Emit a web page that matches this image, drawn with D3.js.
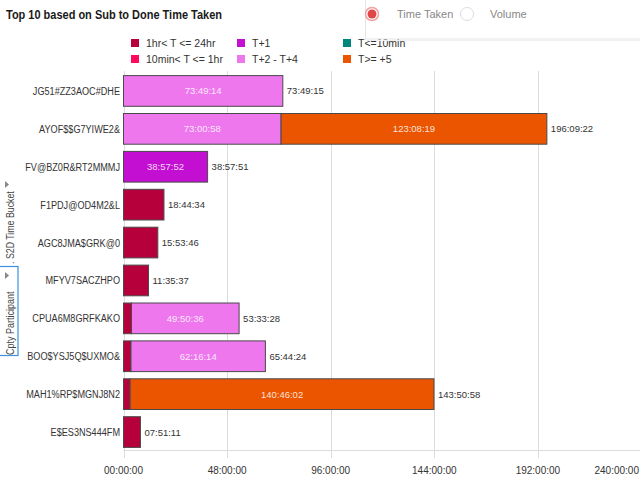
<!DOCTYPE html>
<html><head><meta charset="utf-8">
<script src="https://cdn.jsdelivr.net/npm/d3@7"></script>
<style>
body{margin:0;background:#fff;}
svg{display:block;font-family:"Liberation Sans",Arial,sans-serif;}
</style></head>
<body><svg id="c" width="640" height="477"></svg>
<script>
const categories = ["JG51#ZZ3AOC#DHE","AYOF$$G7YIWE2&","FV@BZ0R&RT2MMMJ","F1PDJ@OD4M2&L","AGC8JMA$GRK@0","MFYV7SACZHPO","CPUA6M8GRFKAKO","BOO$YSJ5Q$UXMO&","MAH1%RP$MGNJ8N2","E$ES3NS444FM"];
const seriesNames = ["1hr< T <= 24hr","10min< T <= 1hr","T<=10min","T+1","T+2 - T+4","T>= +5"];
const seriesColors = ["#b5003c","#ff0a5c","#00877b","#c20fd1","#ee77ee","#eb5500"];
const s1hr   = ["0","0","0","18:44:34","15:53:46","11:35:37","03:42:52","03:28:10","03:04:56","07:51:11"];
const s10min = ["0","0","0","0","0","0","0","0","0","0"];
const s10    = ["0","0","0","0","0","0","0","0","0","0"];
const sT1    = ["0","0","38:57:52","0","0","0","0","0","0","0"];
const sT2T4  = ["73:49:14","73:00:58","0","0","0","0","49:50:36","62:16:14","0","0"];
const sT5    = ["0","123:08:19","0","0","0","0","0","0","140:46:02","0"];
const totals = ["73:49:15","196:09:22","38:57:51","18:44:34","15:53:46","11:35:37","53:33:28","65:44:24","143:50:58","07:51:11"];
const xTicks = [0,48,96,144,192,240];

const toH = s => { if(s==="0") return 0; const p=s.split(":").map(Number); return p[0]+p[1]/60+p[2]/3600; };
const fmt = h => { const t=Math.round(h*3600); const hh=Math.floor(t/3600), mm=Math.floor(t%3600/60), ss=t%60; return String(hh).padStart(2,"0")+":"+String(mm).padStart(2,"0")+":"+String(ss).padStart(2,"0"); };

const series = [s1hr,s10min,s10,sT1,sT2T4,sT5];
const rows = categories.map((c,i)=>{ const r={cat:c,total:totals[i]}; seriesNames.forEach((n,k)=>{r[n]=toH(series[k][i]); r[n+"_lbl"]=series[k][i];}); return r; });

const svg = d3.select("#c");
const x = d3.scaleLinear().domain([0,240]).range([123.5,641.5]);
const y = d3.scaleBand().domain(categories).range([72,451]).paddingInner(0.19).paddingOuter(0.095);
const color = d3.scaleOrdinal().domain(seriesNames).range(seriesColors);

// grid
svg.append("g").selectAll("line").data(xTicks).join("line")
  .attr("x1",d=>Math.round(x(d))+0.5).attr("x2",d=>Math.round(x(d))+0.5)
  .attr("y1",71).attr("y2",458).attr("stroke","#dcdcdc").attr("stroke-width",1);
svg.append("line").attr("x1",x(0)).attr("x2",640).attr("y1",450.5).attr("y2",450.5).attr("stroke","#dcdcdc");
svg.append("g").selectAll("text").data(xTicks).join("text")
  .attr("x",(d,i)=>i===xTicks.length-1?639:x(d)).attr("y",474)
  .attr("text-anchor",(d,i)=>i===xTicks.length-1?"end":"middle")
  .attr("font-size",10).attr("fill","#333").text(d=>fmt(d));

// bars
const stack = d3.stack().keys(seriesNames)(rows);
const layers = svg.append("g").selectAll("g").data(stack).join("g").attr("fill",d=>color(d.key));
layers.selectAll("rect").data(d=>d.map(v=>({v,key:d.key}))).join("rect")
  .filter(d=>d.v[1]-d.v[0]>0)
  .attr("x",d=>x(d.v[0])).attr("width",d=>x(d.v[1])-x(d.v[0]))
  .attr("y",d=>y(d.v.data.cat)).attr("height",y.bandwidth())
  .attr("stroke","#4a4a4a").attr("stroke-width",1);
layers.selectAll("text").data(d=>d.map(v=>({v,key:d.key}))).join("text")
  .filter(d=>x(d.v[1])-x(d.v[0])>60)
  .attr("x",d=>(x(d.v[0])+x(d.v[1]))/2).attr("y",d=>y(d.v.data.cat)+y.bandwidth()/2+3.5)
  .attr("text-anchor","middle").attr("font-size",9.5).attr("fill","#fff").attr("fill-opacity",0.85)
  .text(d=>d.v.data[d.key+"_lbl"]);

// totals
svg.append("g").selectAll("text").data(rows).join("text")
  .attr("x",d=>x(d3.sum(seriesNames,n=>d[n]))+4).attr("y",d=>y(d.cat)+y.bandwidth()/2+3.5)
  .attr("font-size",9.5).attr("fill","#333").text(d=>d.total);

// category labels (condensed)
svg.append("g").selectAll("text").data(categories).join("text")
  .attr("transform",d=>`translate(120,${y(d)+y.bandwidth()/2+4}) scale(0.83,1)`)
  .attr("text-anchor","end").attr("font-size",11).attr("fill","#333").text(d=>d);

// title
svg.append("text").attr("x",6).attr("y",19).attr("font-size",12).attr("font-weight","bold")
  .attr("fill","#1a1a1a").attr("textLength",216).attr("lengthAdjust","spacingAndGlyphs")
  .text("Top 10 based on Sub to Done Time Taken");

// legend
const legPos = [[131,43],[131,59],[343,43],[237,43],[237,59],[343,59]];
const leg = svg.append("g").selectAll("g").data(seriesNames).join("g")
  .attr("transform",(d,i)=>`translate(${legPos[i][0]},${legPos[i][1]})`);
leg.append("rect").attr("x",0).attr("y",-4).attr("width",8).attr("height",8).attr("fill",d=>color(d));
leg.append("text").attr("x",15).attr("y",4).attr("font-size",10.5).attr("fill","#333").text(d=>d);

// radio panel
svg.append("rect").attr("x",365.5).attr("y",-2).attr("width",280).attr("height",41).attr("fill","#fff").attr("stroke","#e4e4e4");
svg.append("line").attr("x1",366).attr("x2",640).attr("y1",40.5).attr("y2",40.5).attr("stroke","#f0f0f0");
svg.append("circle").attr("cx",372).attr("cy",14).attr("r",6.5).attr("fill","#fff").attr("stroke","#f2a0a0").attr("stroke-width",1.5);
svg.append("circle").attr("cx",372).attr("cy",14).attr("r",4.5).attr("fill","#e04848");
svg.append("text").attr("x",397).attr("y",18).attr("font-size",11).attr("fill","#888").text("Time Taken");
svg.append("circle").attr("cx",467).attr("cy",14).attr("r",6.5).attr("fill","#fff").attr("stroke","#dcdcdc").attr("stroke-width",1);
svg.append("text").attr("x",490).attr("y",18).attr("font-size",11).attr("fill","#888").text("Volume");

// left vertical tabs
svg.append("path").attr("d","M5,181 L9,184.5 L5,188 Z").attr("fill","#888");
svg.append("text").attr("transform","translate(14,264) rotate(-90) scale(0.8,1)").attr("font-size",11).attr("fill","#444").text(". S2D Time Bucket");
svg.append("rect").attr("x",-1).attr("y",266.5).attr("width",19).attr("height",89).attr("fill","none").attr("stroke","#3a8fe0").attr("stroke-width",1.2);
svg.append("path").attr("d","M5,272 L9,275.5 L5,279 Z").attr("fill","#888");
svg.append("text").attr("transform","translate(14,355) rotate(-90) scale(0.82,1)").attr("font-size",11).attr("fill","#444").text("Cpty Participant");
</script></body></html>
